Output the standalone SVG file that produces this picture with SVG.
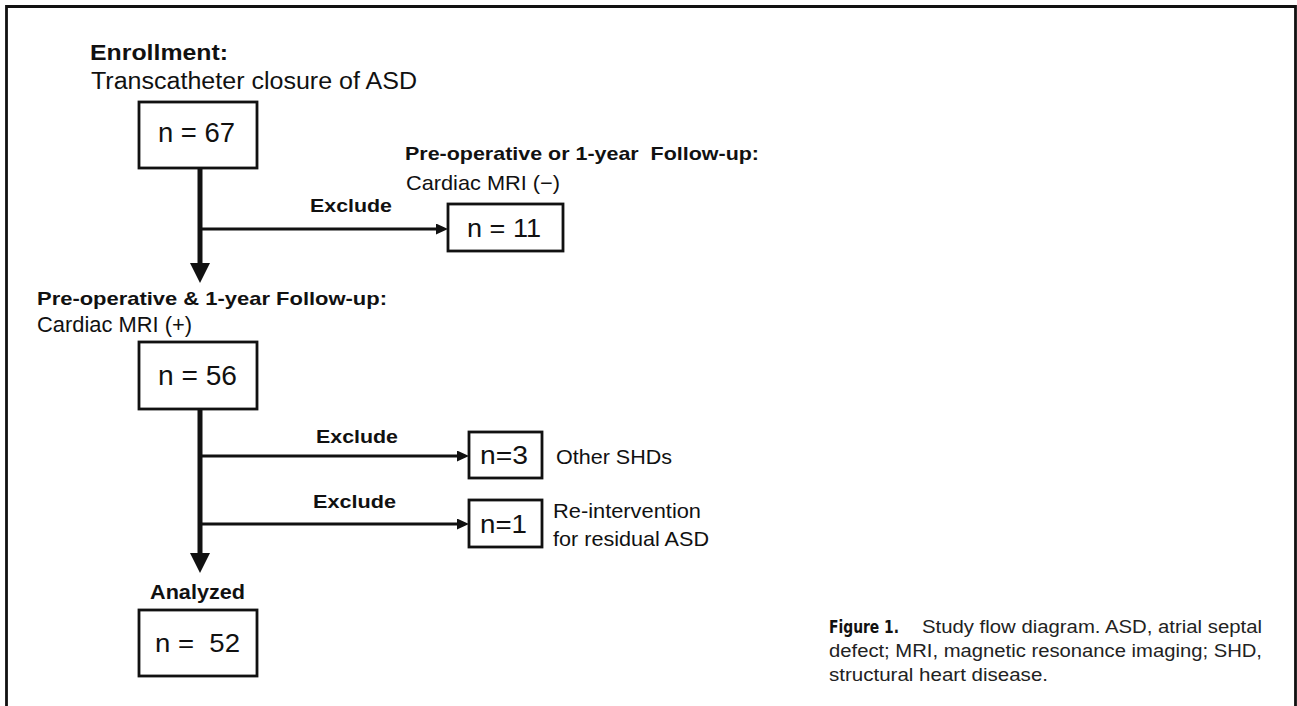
<svg xmlns="http://www.w3.org/2000/svg" width="1297" height="706" viewBox="0 0 1297 706">
<style>
text{font-family:"Liberation Sans",Arial,Helvetica,sans-serif;fill:#111}
.b{font-weight:bold}
.box{fill:#fff;stroke:#111;stroke-width:2.8}
.main{stroke:#111;stroke-width:5;fill:none}
.br{stroke:#111;stroke-width:2.8;fill:none}
.cap{font-size:17.5px;fill:#222}
.fig{font-family:"Liberation Sans Narrow","DejaVu Sans Condensed","Liberation Sans",sans-serif;font-weight:bold;font-size:17.5px}
</style>
<defs>
<marker id="bigArrow" markerUnits="userSpaceOnUse" markerWidth="22" markerHeight="22" refX="0" refY="10" orient="auto" viewBox="0 0 22 22">
<path d="M0,0 L20,10 L0,20 Z" fill="#111"/>
</marker>
<marker id="smallArrow" markerUnits="userSpaceOnUse" markerWidth="14" markerHeight="14" refX="0" refY="5.5" orient="auto" viewBox="0 0 14 14">
<path d="M0,0 L12,5.5 L0,11 Z" fill="#111"/>
</marker>
</defs>
<rect width="1297" height="706" fill="#fff"/>
<path d="M6.5,710 V6.5 H1295.5 V710" fill="none" stroke="#111" stroke-width="2.8"/>

<g id="connectors">
<line class="main" x1="200" y1="168" x2="200" y2="263" marker-end="url(#bigArrow)"/>
<line class="br" x1="200" y1="229" x2="436" y2="229" marker-end="url(#smallArrow)"/>
<line class="main" x1="200" y1="409" x2="200" y2="553" marker-end="url(#bigArrow)"/>
<line class="br" x1="200" y1="456" x2="457" y2="456" marker-end="url(#smallArrow)"/>
<line class="br" x1="200" y1="524" x2="457" y2="524" marker-end="url(#smallArrow)"/>
<text class="b" x="310" y="212" font-size="19" textLength="82" lengthAdjust="spacingAndGlyphs">Exclude</text>
<text class="b" x="316" y="443" font-size="19" textLength="82" lengthAdjust="spacingAndGlyphs">Exclude</text>
<text class="b" x="313" y="508" font-size="19" textLength="83" lengthAdjust="spacingAndGlyphs">Exclude</text>
</g>

<g id="node-enrollment">
<text class="b" x="90" y="60" font-size="22.5" textLength="138" lengthAdjust="spacingAndGlyphs">Enrollment:</text>
<text x="91" y="89" font-size="23.5" textLength="326" lengthAdjust="spacingAndGlyphs">Transcatheter closure of ASD</text>
<rect class="box" x="139" y="102" width="118" height="66"/>
<text x="158" y="142" font-size="27" textLength="77" lengthAdjust="spacingAndGlyphs">n = 67</text>
</g>

<g id="node-excluded-11">
<text class="b" x="405" y="160" font-size="19" textLength="354" lengthAdjust="spacingAndGlyphs" xml:space="preserve">Pre-operative or 1-year  Follow-up:</text>
<text x="406" y="190" font-size="21" textLength="154" lengthAdjust="spacingAndGlyphs">Cardiac MRI (−)</text>
<rect class="box" x="448" y="204" width="115" height="47"/>
<text x="467" y="237" font-size="26" textLength="74" lengthAdjust="spacingAndGlyphs">n = 11</text>
</g>

<g id="node-mri">
<text class="b" x="37" y="305" font-size="19" textLength="350" lengthAdjust="spacingAndGlyphs">Pre-operative &amp; 1-year Follow-up:</text>
<text x="37" y="332" font-size="22" textLength="155" lengthAdjust="spacingAndGlyphs">Cardiac MRI (+)</text>
<rect class="box" x="139" y="342" width="118" height="67"/>
<text x="158" y="385" font-size="27" textLength="79" lengthAdjust="spacingAndGlyphs">n = 56</text>
</g>

<g id="node-excluded-3">
<rect class="box" x="469" y="432" width="73" height="46"/>
<text x="480" y="464" font-size="25" textLength="48" lengthAdjust="spacingAndGlyphs">n=3</text>
<text x="556" y="464" font-size="21" textLength="116" lengthAdjust="spacingAndGlyphs">Other SHDs</text>
</g>

<g id="node-excluded-1">
<rect class="box" x="469" y="500" width="73" height="47"/>
<text x="480" y="533" font-size="25" textLength="47" lengthAdjust="spacingAndGlyphs">n=1</text>
<text x="553" y="518" font-size="21" textLength="148" lengthAdjust="spacingAndGlyphs">Re-intervention</text>
<text x="553" y="546" font-size="21" textLength="156" lengthAdjust="spacingAndGlyphs">for residual ASD</text>
</g>

<g id="node-analyzed">
<text class="b" x="150" y="599" font-size="19.5" textLength="95" lengthAdjust="spacingAndGlyphs">Analyzed</text>
<rect class="box" x="139" y="610" width="118" height="66"/>
<text x="155" y="652" font-size="26" textLength="85" lengthAdjust="spacingAndGlyphs" xml:space="preserve">n =  52</text>
</g>

<g id="caption">
<text class="fig" x="829" y="633" textLength="70" lengthAdjust="spacingAndGlyphs">Figure 1.</text>
<text class="cap" x="922" y="633" textLength="340" lengthAdjust="spacingAndGlyphs">Study flow diagram. ASD, atrial septal</text>
<text class="cap" x="829" y="657" textLength="433" lengthAdjust="spacingAndGlyphs">defect; MRI, magnetic resonance imaging; SHD,</text>
<text class="cap" x="829" y="681" textLength="219" lengthAdjust="spacingAndGlyphs">structural heart disease.</text>
</g>
</svg>
